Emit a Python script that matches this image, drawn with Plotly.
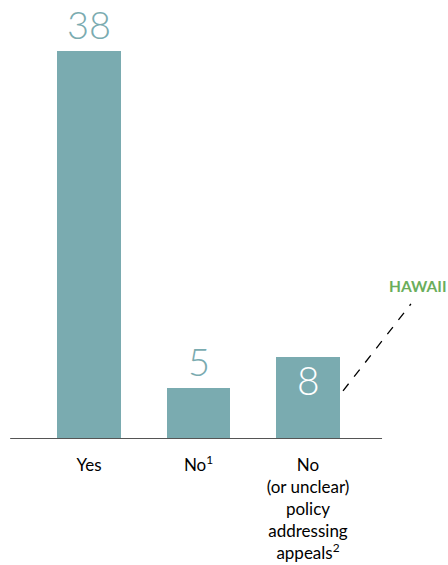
import plotly.graph_objects as go

categories = ["Yes", "No<sup>1</sup>", "No<br>(or unclear)<br>policy<br>addressing<br>appeals<sup>2</sup>"]
values = [38, 5, 8]
label_inside = [False, False, True]
callout_text = "HAWAII"
callout_index = 2

teal = "#7aabb0"
green = "#6aae5c"
font_family = "Lato, 'Open Sans', sans-serif"

xpos = list(range(len(categories)))

fig = go.Figure()
fig.add_trace(go.Bar(
    x=xpos, y=values, marker=dict(color=teal, line=dict(width=0)),
    width=0.584, hoverinfo="skip",
))

for xi, v, inside in zip(xpos, values, label_inside):
    if inside:
        fig.add_annotation(x=xi, y=v, text=str(v), showarrow=False, xref="x", yref="y",
                           yanchor="top", yshift=2,
                           font=dict(size=39, color="white", family=font_family, weight=300))
    else:
        fig.add_annotation(x=xi, y=v, text=str(v), showarrow=False, xref="x", yref="y",
                           yanchor="bottom", yshift=2,
                           font=dict(size=38, color=teal, family=font_family, weight=300))

# baseline (axis line)
fig.add_shape(type="line", xref="x", yref="y", x0=-0.72, x1=2.676, y0=0, y1=0,
              line=dict(color="#555555", width=2), layer="above")

# callout leader line and label
cx = xpos[callout_index]
cv = values[callout_index]
fig.add_shape(type="line", xref="x", yref="y",
              x0=cx + 0.32, y0=cv * 0.59, x1=cx + 0.94, y1=cv * 1.655,
              line=dict(color="black", width=1.3, dash="dash"))
fig.add_annotation(x=cx + 1.275, y=cv * 1.88, text="<b>" + callout_text + "</b>", showarrow=False,
                   xref="x", yref="y", xanchor="right", yanchor="middle",
                   font=dict(size=15.5, color=green, family=font_family))

fig.update_layout(
    width=448, height=565,
    margin=dict(l=0, r=0, t=0, b=126, autoexpand=False),
    paper_bgcolor="white", plot_bgcolor="white",
    showlegend=False,
    bargap=0,
    font=dict(family=font_family, color="black", size=17),
)
fig.update_xaxes(
    range=[-0.8128, 3.2785], tickmode="array", tickvals=xpos, ticktext=categories,
    showline=False, showgrid=False, zeroline=False, automargin=False,
    ticks="", tickfont=dict(size=17, color="black", family=font_family),
    ticklabelstandoff=14, fixedrange=True,
)
fig.update_yaxes(range=[0, 43.04], visible=False, showgrid=False, zeroline=False,
                 fixedrange=True, automargin=False)

fig.write_html("out.html", config={"displayModeBar": False},
               post_script="document.body.style.margin='0';document.body.style.overflow='hidden';")
